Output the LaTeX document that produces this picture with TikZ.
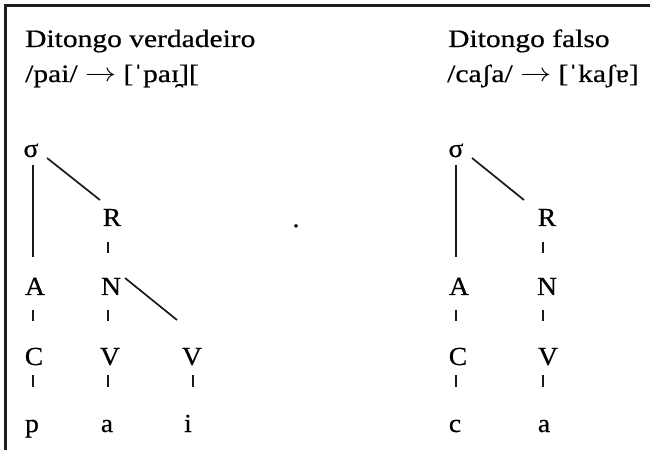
\documentclass[tikz,border=0pt]{standalone}
\usepackage{fontspec}
\setmainfont{Liberation Serif}
\newfontfamily\hdrfont[FakeStretch=1.18,FakeBold=0.6]{Liberation Serif}
\newfontfamily\treefont[FakeStretch=1.06,FakeBold=0.6]{Liberation Serif}
\newcommand{\longarr}{\raisebox{0.5pt}{\scalebox{1.25}[1.05]{$\rightarrow$}}}
\begin{document}
\begin{tikzpicture}[x=1pt,y=1pt,
  hdr/.style={anchor=base west,inner sep=0pt,font=\hdrfont\fontsize{25}{30}\selectfont},
  lab/.style={anchor=base,inner sep=0pt,text height=17pt,text depth=0pt,font=\treefont\fontsize{26}{30}\selectfont},
  edge/.style={line width=1.7pt,draw=black!90},
  frame/.style={line width=3pt,draw=black!88}]
\useasboundingbox (0,0) rectangle (650,450);
\draw[frame] (5.5,0) -- (5.5,444.5) -- (650,444.5);
% headers
\node[hdr] (h1) at (25,403) {Ditongo verdadeiro};
\node[hdr] (h2) at (25,368) {/pai/ \longarr{} [ˈpaɪ̯][};
\node[hdr] (h3) at (448,403) {Ditongo falso};
\node[hdr] (h4) at (447,368) {/caʃa/ \longarr{} [ˈkaʃɐ]};
% left tree
\node[lab] (s1) at (31,293) {σ};
\node[lab] (R1) at (112,224) {R};
\node[lab] (A1) at (35,155) {A};
\node[lab] (N1) at (111,155) {N};
\node[lab] (C1) at (34,85) {C};
\node[lab] (V1) at (110,85) {V};
\node[lab] (V2) at (192,85) {V};
\node[lab] (p1) at (32,18) {p};
\node[lab] (a1) at (107,18) {a};
\node[lab] (i1) at (188,18) {i};
\node[lab] (dot) at (296,223) {.};
\draw[edge] ([shift={(2pt,-8pt)}]s1.base) -- ([shift={(-2pt,38pt)}]A1.base);
\draw[edge] ([shift={(16pt,-1pt)}]s1.base) -- ([shift={(-12pt,26pt)}]R1.base);
\draw[edge] ([shift={(-4pt,-16pt)}]R1.base) -- ([shift={(-3pt,42pt)}]N1.base);
\draw[edge] ([shift={(-2pt,-15pt)}]A1.base) -- ([shift={(-1pt,44pt)}]C1.base);
\draw[edge] ([shift={(-3pt,-15pt)}]N1.base) -- ([shift={(-2pt,44pt)}]V1.base);
\draw[edge] ([shift={(14pt,17pt)}]N1.base) -- ([shift={(-15pt,45pt)}]V2.base);
\draw[edge] ([shift={(-1pt,-10pt)}]C1.base) -- ([shift={(1pt,45pt)}]p1.base);
\draw[edge] ([shift={(-2pt,-10pt)}]V1.base) -- ([shift={(1pt,45pt)}]a1.base);
\draw[edge] ([shift={(1pt,-10pt)}]V2.base) -- ([shift={(5pt,45pt)}]i1.base);
% right tree
\node[lab] (s2) at (456,293) {σ};
\node[lab] (R2) at (547,224) {R};
\node[lab] (A2) at (459,155) {A};
\node[lab] (N2) at (547,155) {N};
\node[lab] (C2) at (458,85) {C};
\node[lab] (V3) at (548,85) {V};
\node[lab] (c2) at (455,18) {c};
\node[lab] (a2) at (544,18) {a};
\draw[edge] ([shift={(0pt,-8pt)}]s2.base) -- ([shift={(-3pt,38pt)}]A2.base);
\draw[edge] ([shift={(16pt,-1pt)}]s2.base) -- ([shift={(-23pt,26pt)}]R2.base);
\draw[edge] ([shift={(-4pt,-16pt)}]R2.base) -- ([shift={(-4pt,42pt)}]N2.base);
\draw[edge] ([shift={(-3pt,-15pt)}]A2.base) -- ([shift={(-2pt,44pt)}]C2.base);
\draw[edge] ([shift={(-4pt,-15pt)}]N2.base) -- ([shift={(-5pt,44pt)}]V3.base);
\draw[edge] ([shift={(-2pt,-10pt)}]C2.base) -- ([shift={(1pt,45pt)}]c2.base);
\draw[edge] ([shift={(-5pt,-10pt)}]V3.base) -- ([shift={(-1pt,45pt)}]a2.base);
\end{tikzpicture}
\end{document}
